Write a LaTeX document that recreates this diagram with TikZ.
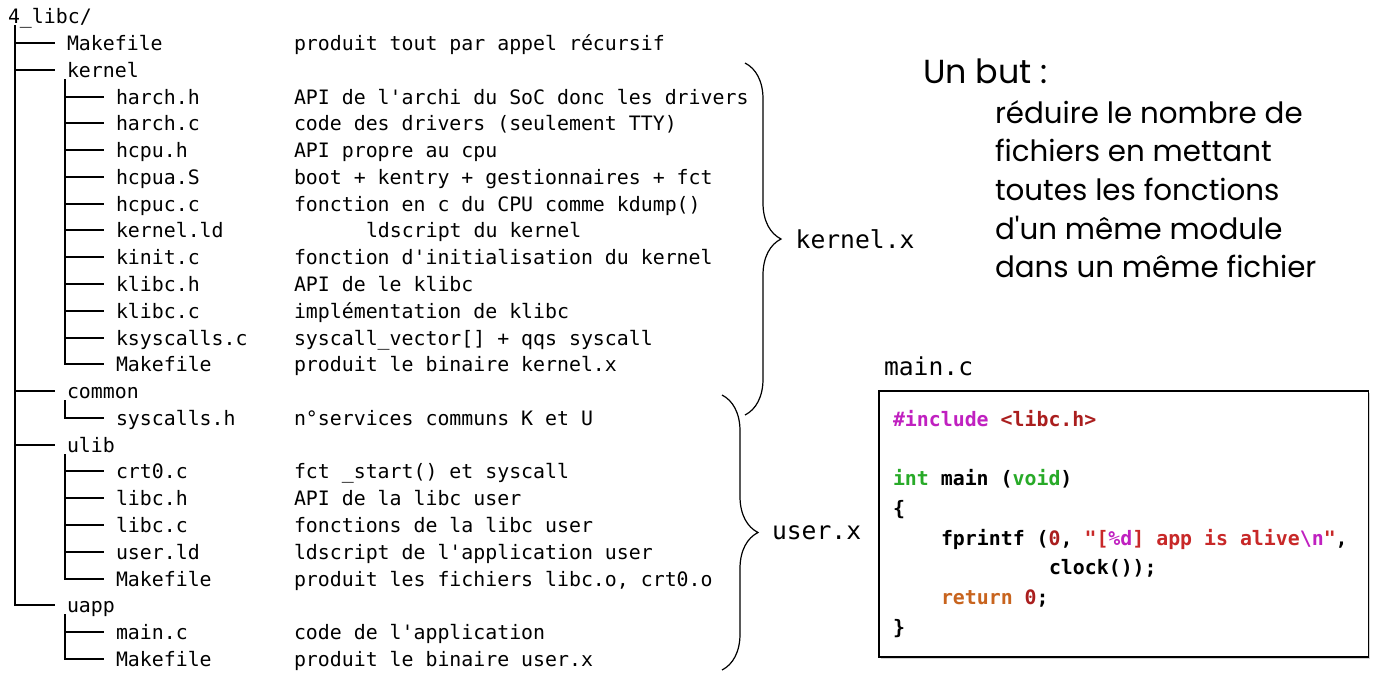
\documentclass[tikz,border=0pt]{standalone}
\usepackage{fontspec}
\setmonofont{DejaVu Sans Mono}
\newfontfamily\butfont{Poppins}
\usetikzlibrary{positioning, decorations.pathreplacing, shadows}

\definecolor{kwpink}{RGB}{192,32,192}
\definecolor{strred}{RGB}{200,40,40}
\definecolor{numred}{RGB}{170,30,30}
\definecolor{typegreen}{RGB}{40,170,40}
\definecolor{retorange}{RGB}{200,100,30}

\begin{document}
\begin{tikzpicture}
    [x = 0.75pt, y = -0.75pt, outer sep = 0pt,
     entry/.style={anchor=base west, inner sep=0pt, text height=12pt,
       text depth=1.5pt, font=\ttfamily\fontsize{14.9}{17}\selectfont},
     tree/.style={draw=black, line width=1pt},
     bracepath/.style={decoration={brace, amplitude=27pt}, decorate,
       line width=0.9pt},
     outname/.style={inner sep=0pt, font=\ttfamily\fontsize{18.5}{22}\selectfont},
     codebox/.style={rectangle, draw=black, line width=1.2pt, fill=white,
       drop shadow={shadow xshift=1.5pt, shadow yshift=-1.5pt, opacity=0.35},
       minimum width=367pt, minimum height=199.5pt, anchor=north west,
       inner sep=0pt},
     codeline/.style={anchor=base west, inner sep=0pt,
       font=\ttfamily\bfseries\fontsize{14.9}{17}\selectfont},
     goalhead/.style={anchor=base west, inner sep=0pt,
       font=\butfont\fontsize{25}{29}\selectfont},
     goal/.style={anchor=base west, inner sep=0pt,
       font=\butfont\fontsize{22}{26}\selectfont}]

    \useasboundingbox (0,0) rectangle (1376,672);

    % directory tree
    \node [entry] (root) at (8,23) {4\_libc/};
    \node [entry] (mk-top) at (67,50) {Makefile};
    \node [entry] (kernel) at (67,77) {kernel};
    \node [entry] (harch-h) at (116,104) {harch.h};
    \node [entry] (harch-c) at (116,130) {harch.c};
    \node [entry] (hcpu-h) at (116,157) {hcpu.h};
    \node [entry] (hcpua-s) at (116,184) {hcpua.S};
    \node [entry] (hcpuc-c) at (116,211) {hcpuc.c};
    \node [entry] (kernel-ld) at (116,237) {kernel.ld};
    \node [entry] (kinit-c) at (116,264) {kinit.c};
    \node [entry] (klibc-h) at (116,291) {klibc.h};
    \node [entry] (klibc-c) at (116,318) {klibc.c};
    \node [entry] (ksyscalls-c) at (116,345) {ksyscalls.c};
    \node [entry] (kernel-mk) at (116,371) {Makefile};
    \node [entry] (common) at (67,398) {common};
    \node [entry] (syscalls-h) at (116,425) {syscalls.h};
    \node [entry] (ulib) at (67,452) {ulib};
    \node [entry] (crt0-c) at (116,478) {crt0.c};
    \node [entry] (libc-h) at (116,505) {libc.h};
    \node [entry] (libc-c) at (116,532) {libc.c};
    \node [entry] (user-ld) at (116,559) {user.ld};
    \node [entry] (ulib-mk) at (116,586) {Makefile};
    \node [entry] (uapp) at (67,612) {uapp};
    \node [entry] (main-c) at (116,639) {main.c};
    \node [entry] (uapp-mk) at (116,666) {Makefile};

    % descriptions
    \node [entry] (mk-top-d) at (294,50) {produit tout par appel récursif};
    \node [entry] (harch-h-d) at (294,104) {API de l'archi du SoC donc les drivers};
    \node [entry] (harch-c-d) at (294,130) {code des drivers (seulement TTY)};
    \node [entry] (hcpu-h-d) at (294,157) {API propre au cpu};
    \node [entry] (hcpua-s-d) at (294,184) {boot + kentry + gestionnaires + fct};
    \node [entry] (hcpuc-c-d) at (294,211) {fonction en c du CPU comme kdump()};
    \node [entry] (kernel-ld-d) at (366,237) {ldscript du kernel};
    \node [entry] (kinit-c-d) at (294,264) {fonction d'initialisation du kernel};
    \node [entry] (klibc-h-d) at (294,291) {API de le klibc};
    \node [entry] (klibc-c-d) at (294,318) {implémentation de klibc};
    \node [entry] (ksyscalls-c-d) at (294,345) {syscall\_vector[] + qqs syscall};
    \node [entry] (kernel-mk-d) at (294,371) {produit le binaire kernel.x};
    \node [entry] (syscalls-h-d) at (294,425) {n°services communs K et U};
    \node [entry] (crt0-c-d) at (294,478) {fct \_start() et syscall};
    \node [entry] (libc-h-d) at (294,505) {API de la libc user};
    \node [entry] (libc-c-d) at (294,532) {fonctions de la libc user};
    \node [entry] (user-ld-d) at (294,559) {ldscript de l'application user};
    \node [entry] (ulib-mk-d) at (294,586) {produit les fichiers libc.o, crt0.o};
    \node [entry] (main-c-d) at (294,639) {code de l'application};
    \node [entry] (uapp-mk-d) at (294,666) {produit le binaire user.x};

    % tree lines
    \coordinate (root-trunk) at ([xshift=5.25pt]root.south west);
    \foreach \f in {mk-top, kernel, common, ulib, uapp}
      \draw [tree] (root-trunk) |- ([xshift=-9pt]\f.west);
    \coordinate (kernel-trunk) at ([xshift=-1.5pt]kernel.south west);
    \foreach \f in {harch-h, harch-c, hcpu-h, hcpua-s, hcpuc-c, kernel-ld,
      kinit-c, klibc-h, klibc-c, ksyscalls-c, kernel-mk}
      \draw [tree] (kernel-trunk) |- ([xshift=-9pt]\f.west);
    \coordinate (common-trunk) at ([xshift=-1.5pt]common.south west);
    \draw [tree] (common-trunk) |- ([xshift=-9pt]syscalls-h.west);
    \coordinate (ulib-trunk) at ([xshift=-1.5pt]ulib.south west);
    \foreach \f in {crt0-c, libc-h, libc-c, user-ld, ulib-mk}
      \draw [tree] (ulib-trunk) |- ([xshift=-9pt]\f.west);
    \coordinate (uapp-trunk) at ([xshift=-1.5pt]uapp.south west);
    \foreach \f in {main-c, uapp-mk}
      \draw [tree] (uapp-trunk) |- ([xshift=-9pt]\f.west);

    % braces
    \coordinate (kbrace-top) at (745,63);
    \coordinate (kbrace-bot) at (745,415);
    \draw [bracepath] (kbrace-top) -- (kbrace-bot) node [midway,
    anchor=west, xshift=38pt, outname] (kernel-x) {kernel.x};
    \coordinate (ubrace-top) at (722,395);
    \coordinate (ubrace-bot) at (722,670);
    \draw [bracepath] (ubrace-top) -- (ubrace-bot) node [midway,
    anchor=west, xshift=37.5pt, outname] (user-x) {user.x};

    % goal text
    \node [goalhead] (goal) at (923,83) {Un but :};
    \node [goal] (goal-1) at (995,123) {réduire le nombre de};
    \node [goal] (goal-2) at (995,161) {fichiers en mettant};
    \node [goal] (goal-3) at (995,200) {toutes les fonctions};
    \node [goal] (goal-4) at (995,239) {d'un même module};
    \node [goal] (goal-5) at (995,277) {dans un même fichier};

    % main.c
    \node [outname, anchor=base west] (main-title) at (884,375) {main.c};
    \node [codebox] (mainbox) at (879,391) {};
    \node [codeline] (code-1) at (893,426) {{\color{kwpink}\#include}
      {\color{numred}<libc.h>}};
    \node [codeline] (code-2) at (893,485) {{\color{typegreen}int} main
      ({\color{typegreen}void})};
    \node [codeline] (code-3) at (893,515) {\{};
    \node [codeline] (code-4) at (941,545) {fprintf ({\color{numred}0},
      {\color{strred}"[}{\color{kwpink}\%d}{\color{strred}] app is
        alive}{\color{kwpink}\textbackslash n}{\color{strred}"},};
    \node [codeline] (code-5) at (1049,574) {clock());};
    \node [codeline] (code-6) at (941,604) {{\color{retorange}return}
      {\color{numred}0};};
    \node [codeline] (code-7) at (893,634) {\}};
  \end{tikzpicture}
\end{document}
